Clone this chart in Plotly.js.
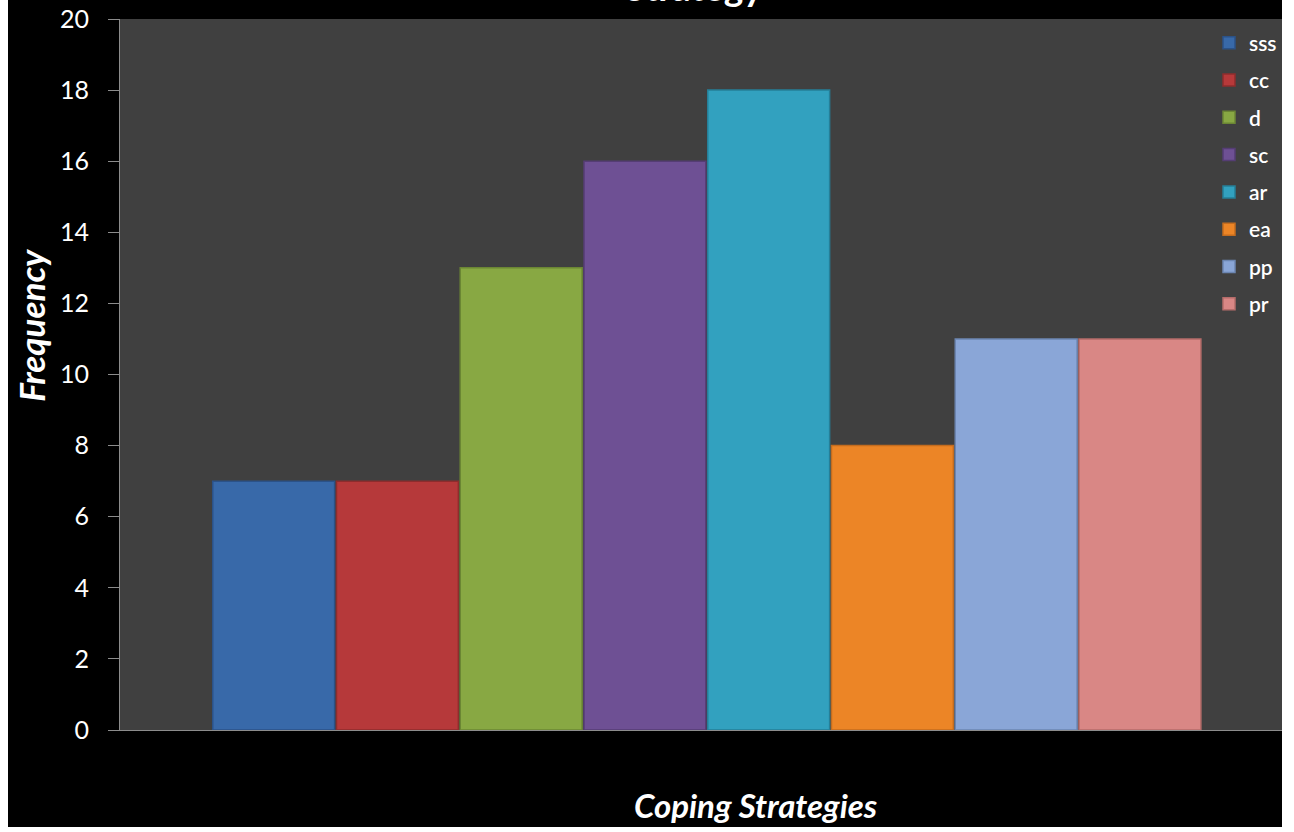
<!DOCTYPE html>
<html>
<head>
<meta charset="utf-8">
<script src="https://cdn.plot.ly/plotly-3.0.1.min.js"></script>
<style>
html,body{margin:0;padding:0;background:#ffffff;}
#chart{position:absolute;left:8px;top:0;width:1274px;height:827px;}
</style>
</head>
<body>
<div id="chart"></div>
<script>
const category = ["Coping Strategies"];
const seriesNames = ["sss", "cc", "d", "sc", "ar", "ea", "pp", "pr"];
const seriesValues = [7, 7, 13, 16, 18, 8, 11, 11];
const seriesColors = ["#3869A9", "#B6393A", "#88A843", "#6E5094", "#32A1BF", "#EC8526", "#8AA6D7", "#D98785"];
const edgeColors = ["#2B5288", "#8E2C2D", "#6B8634", "#553D74", "#257F98", "#C46C1E", "#6C86B2", "#B56C6A"];
const yTicks = [0, 2, 4, 6, 8, 10, 12, 14, 16, 18, 20];

const FONT = "Lato, 'Open Sans', sans-serif";

const traces = seriesNames.map((name, i) => ({
  type: "bar",
  name: name,
  x: category,
  y: [seriesValues[i]],
  legendgroup: name,
  marker: { color: seriesColors[i], line: { color: edgeColors[i], width: 1.5 } },
  hoverinfo: "skip"
}));

const layout = {
  width: 1274,
  height: 827,
  paper_bgcolor: "#000000",
  plot_bgcolor: "#404040",
  margin: { l: 112, r: 0, t: 19, b: 97, pad: 0 },
  barmode: "group",
  bargap: 0.148,
  bargroupgap: 0.015,
  showlegend: true,
  legend: {
    x: 1, xanchor: "right", y: 0.995, yanchor: "top",
    bgcolor: "rgba(0,0,0,0)",
    font: { family: FONT, size: 21, color: "#ffffff", weight: 600 },
    traceorder: "grouped",
    tracegroupgap: 7,
    itemwidth: 30
  },
  xaxis: {
    type: "category",
    range: [-0.505, 0.495],
    showticklabels: false,
    ticks: "",
    showgrid: false,
    zeroline: false,
    showline: true,
    linecolor: "#8c8c8c",
    linewidth: 1,
    fixedrange: true
  },
  yaxis: {
    range: [0, 20],
    tickvals: yTicks,
    ticktext: yTicks.map(String),
    ticks: "outside",
    ticklen: 11,
    tickcolor: "#8c8c8c",
    ticklabelstandoff: 14,
    tickfont: { family: FONT, size: 25, color: "#ffffff" },
    showgrid: false,
    zeroline: false,
    showline: true,
    linecolor: "#8c8c8c",
    linewidth: 1,
    fixedrange: true
  },
  annotations: [
    {
      text: "<b>Strategy</b>", xref: "paper", yref: "paper", x: 0.494, y: 1,
      xanchor: "center", yanchor: "bottom", yshift: 8, showarrow: false,
      font: { family: FONT, size: 37, color: "#ffffff" }
    },
    {
      text: "<b><i>Frequency</i></b>", xref: "paper", yref: "paper", x: 0, y: 0.57,
      xanchor: "center", yanchor: "middle", xshift: -89, showarrow: false, textangle: -90,
      font: { family: FONT, size: 35, color: "#ffffff" }
    },
    {
      text: "<b><i>Coping Strategies</i></b>", xref: "paper", yref: "paper", x: 0.547, y: 0,
      xanchor: "center", yanchor: "middle", yshift: -75, showarrow: false,
      font: { family: FONT, size: 33, color: "#ffffff" }
    }
  ]
};

Plotly.newPlot("chart", traces, layout, { displayModeBar: false, staticPlot: true });
</script>
</body>
</html>
